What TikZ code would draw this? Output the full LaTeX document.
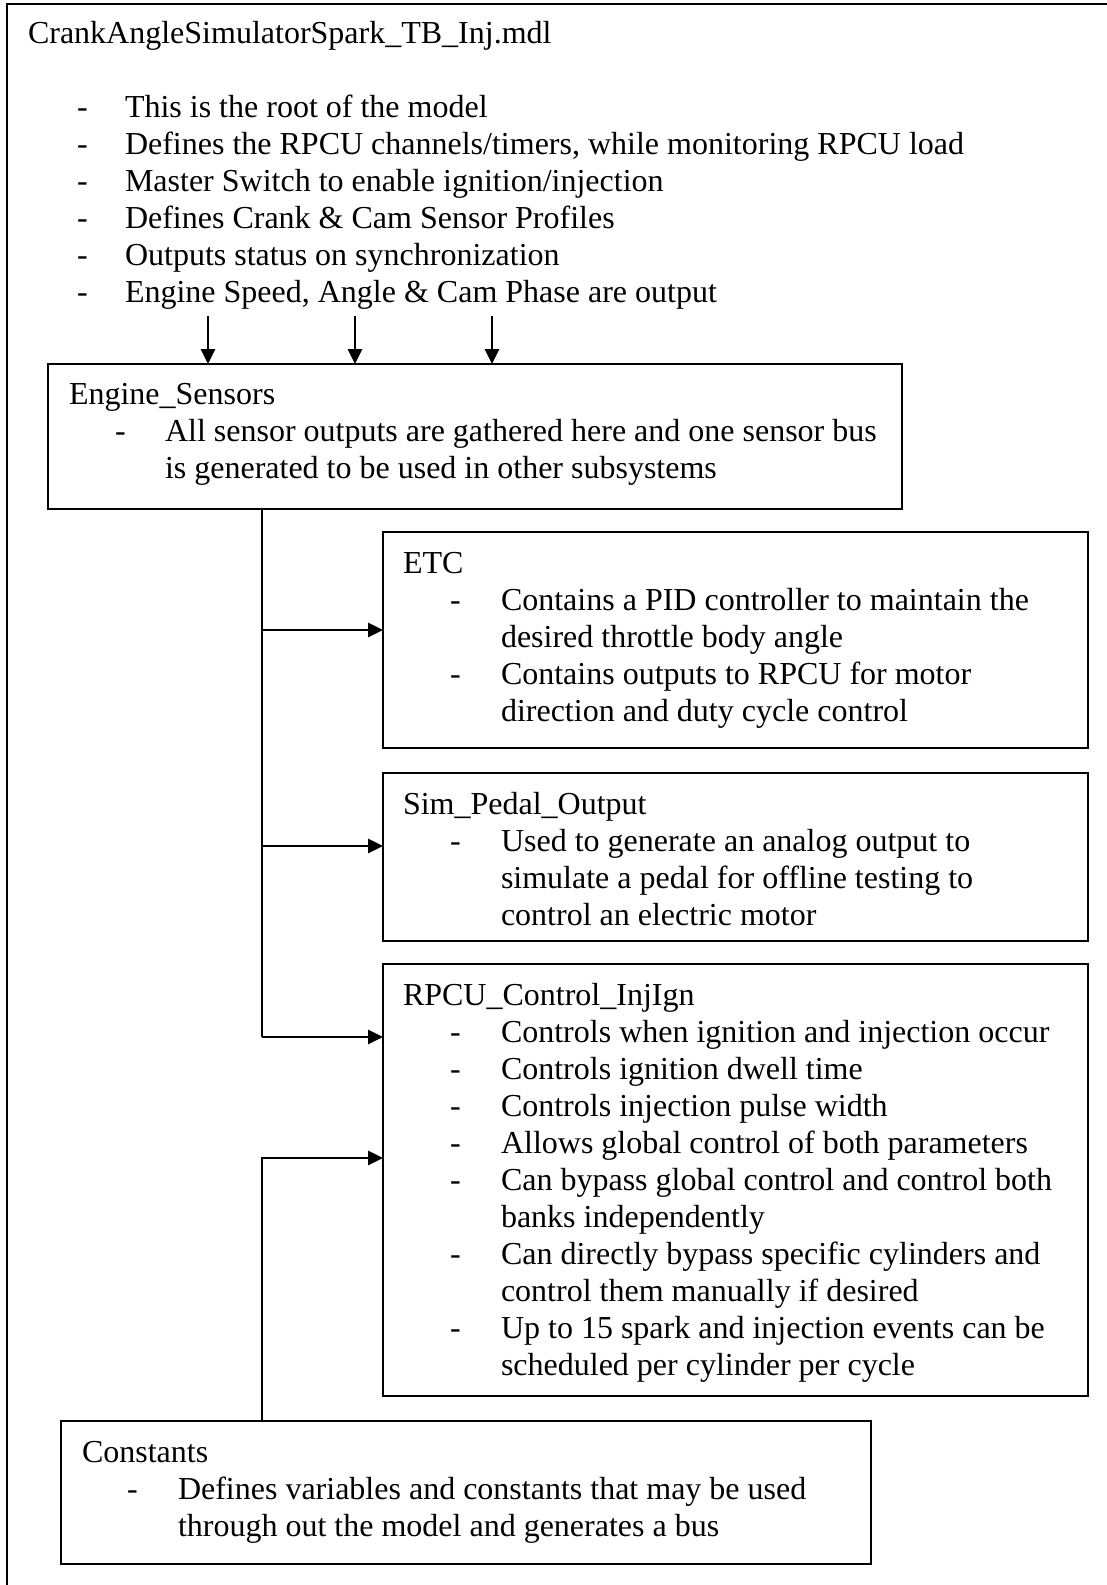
\documentclass[tikz,border=0pt]{standalone}
\usepackage{fontspec}
\setmainfont{Liberation Serif}
\usetikzlibrary{arrows.meta,fit}
\begin{document}
\begin{tikzpicture}[x=0.375pt,y=-0.375pt,
  font=\fontsize{12}{13.9}\selectfont,
  box/.style={draw, line width=0.75pt, inner sep=0pt, outer sep=0pt},
  txt/.style={anchor=base west, inner sep=0pt, outer sep=0pt},
  wire/.style={line width=0.6pt},
  arr/.style={line width=0.6pt, -{Triangle[length=5.6pt,width=5.4pt]}}]
\useasboundingbox (0,0) rectangle (1107,1585);

% outer frame (extends beyond the picture at right and bottom)
\draw[line width=0.75pt] (7,1585) -- (7,4) -- (1107,4);

% root texts
\node[txt] (rt) at (28,44) {CrankAngleSimulatorSpark\_TB\_Inj.mdl};
\node[txt] (rd1) at (77,118) {-};
\node[txt] (rl1) at (125,118) {This is the root of the model};
\node[txt] (rd2) at (77,155) {-};
\node[txt] (rl2) at (125,155) {Defines the RPCU channels/timers, while monitoring RPCU load};
\node[txt] (rd3) at (77,192) {-};
\node[txt] (rl3) at (125,192) {Master Switch to enable ignition/injection};
\node[txt] (rd4) at (77,229) {-};
\node[txt] (rl4) at (125,229) {Defines Crank \& Cam Sensor Profiles};
\node[txt] (rd5) at (77,266) {-};
\node[txt] (rl5) at (125,266) {Outputs status on synchronization};
\node[txt] (rd6) at (77,303) {-};
\node[txt] (rl6) at (125,303) {Engine Speed, Angle \& Cam Phase are output};

% boxes
\node[box, fit={(48,364) (902,509)}] (engine) {};
\node[box, fit={(383,532) (1088,748)}] (etc) {};
\node[box, fit={(383,773) (1088,941)}] (sim) {};
\node[box, fit={(383,964) (1088,1396)}] (rpcu) {};
\node[box, fit={(61,1421) (871,1564)}] (const) {};

% Engine_Sensors
\node[txt] (et) at (69,405) {Engine\_Sensors};
\node[txt] (ed1) at (115,442) {-};
\node[txt] (el1) at (165,442) {All sensor outputs are gathered here and one sensor bus};
\node[txt] (el2) at (165,479) {is generated to be used in other subsystems};

% ETC
\node[txt] (ct) at (403,573) {ETC};
\node[txt] (cd1) at (450,610) {-};
\node[txt] (cl1) at (501,610) {Contains a PID controller to maintain the};
\node[txt] (cl2) at (501,647) {desired throttle body angle};
\node[txt] (cd2) at (450,684) {-};
\node[txt] (cl3) at (501,684) {Contains outputs to RPCU for motor};
\node[txt] (cl4) at (501,721) {direction and duty cycle control};

% Sim_Pedal_Output
\node[txt] (st) at (403,814) {Sim\_Pedal\_Output};
\node[txt] (sd1) at (450,851) {-};
\node[txt] (sl1) at (501,851) {Used to generate an analog output to};
\node[txt] (sl2) at (501,888) {simulate a pedal for offline testing to};
\node[txt] (sl3) at (501,925) {control an electric motor};

% RPCU_Control_InjIgn
\node[txt] (pt) at (403,1005) {RPCU\_Control\_InjIgn};
\node[txt] (pd1) at (450,1042) {-};
\node[txt] (pl1) at (501,1042) {Controls when ignition and injection occur};
\node[txt] (pd2) at (450,1079) {-};
\node[txt] (pl2) at (501,1079) {Controls ignition dwell time};
\node[txt] (pd3) at (450,1116) {-};
\node[txt] (pl3) at (501,1116) {Controls injection pulse width};
\node[txt] (pd4) at (450,1153) {-};
\node[txt] (pl4) at (501,1153) {Allows global control of both parameters};
\node[txt] (pd5) at (450,1190) {-};
\node[txt] (pl5) at (501,1190) {Can bypass global control and control both};
\node[txt] (pl6) at (501,1227) {banks independently};
\node[txt] (pd6) at (450,1264) {-};
\node[txt] (pl7) at (501,1264) {Can directly bypass specific cylinders and};
\node[txt] (pl8) at (501,1301) {control them manually if desired};
\node[txt] (pd7) at (450,1338) {-};
\node[txt] (pl9) at (501,1338) {Up to 15 spark and injection events can be};
\node[txt] (pl10) at (501,1375) {scheduled per cylinder per cycle};

% Constants
\node[txt] (kt) at (82,1462) {Constants};
\node[txt] (kd1) at (127,1499) {-};
\node[txt] (kl1) at (178,1499) {Defines variables and constants that may be used};
\node[txt] (kl2) at (178,1536) {through out the model and generates a bus};

% connectors from the root into Engine_Sensors
\coordinate (a1) at (208,316);
\coordinate (a2) at (355,316);
\coordinate (a3) at (492,316);
\draw[arr] (a1) -- (a1 |- engine.north);
\draw[arr] (a2) -- (a2 |- engine.north);
\draw[arr] (a3) -- (a3 |- engine.north);

% sensor bus
\coordinate (bx) at (262,0);
\coordinate (j1) at (262,630);
\coordinate (j2) at (262,846);
\coordinate (j3) at (262,1037);
\coordinate (j4) at (262,1158);
\draw[wire] (bx |- engine.south) -- (j3);
\draw[arr] (j1) -- (j1 -| etc.west);
\draw[arr] (j2) -- (j2 -| sim.west);
\draw[arr] (j3) -- (j3 -| rpcu.west);

% constants bus
\draw[arr] (bx |- const.north) -- (j4) -- (j4 -| rpcu.west);
\end{tikzpicture}
\end{document}
